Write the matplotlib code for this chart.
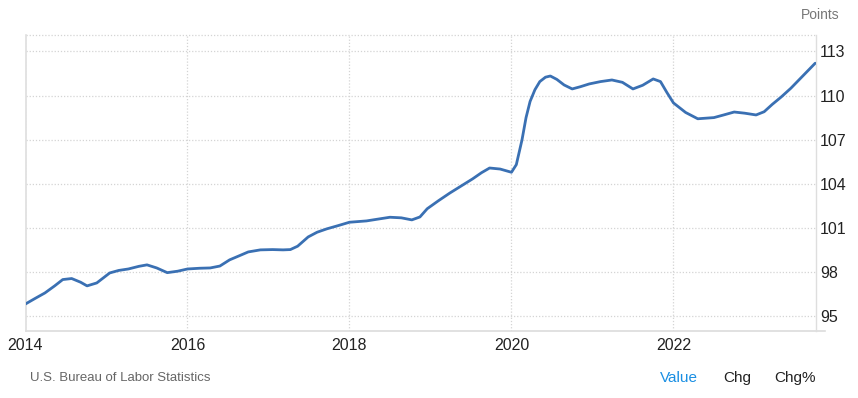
import matplotlib
matplotlib.use("Agg")
from matplotlib import pyplot as plt

plt.rcParams['font.family'] = ['Liberation Sans', 'DejaVu Sans']

# values (decimal year, index points)
years = [2014.0, 2014.12, 2014.24, 2014.36, 2014.46, 2014.57, 2014.68, 2014.76, 2014.88,
         2015.04, 2015.15, 2015.27, 2015.4, 2015.5, 2015.62, 2015.75, 2015.88,
         2016.0, 2016.15, 2016.28, 2016.4, 2016.52, 2016.64, 2016.75, 2016.9,
         2017.05, 2017.18, 2017.27, 2017.36, 2017.49, 2017.6, 2017.72, 2017.86,
         2018.0, 2018.21, 2018.36, 2018.5, 2018.64, 2018.77, 2018.87, 2018.96,
         2019.1, 2019.24, 2019.38, 2019.52, 2019.63, 2019.73, 2019.86, 2020.0,
         2020.06, 2020.13, 2020.18, 2020.23, 2020.29, 2020.35, 2020.42, 2020.48,
         2020.56, 2020.65, 2020.75, 2020.85, 2020.96, 2021.1, 2021.24, 2021.37,
         2021.5, 2021.62, 2021.75, 2021.84, 2021.92, 2022.0, 2022.15, 2022.3,
         2022.5, 2022.62, 2022.75, 2022.88, 2023.02, 2023.12, 2023.22, 2023.33,
         2023.45, 2023.6, 2023.75]
values = [95.82, 96.2, 96.57, 97.05, 97.48, 97.55, 97.3, 97.05, 97.25,
          97.93, 98.1, 98.2, 98.38, 98.48, 98.27, 97.95, 98.05,
          98.2, 98.25, 98.27, 98.4, 98.82, 99.1, 99.36, 99.5,
          99.52, 99.5, 99.52, 99.75, 100.38, 100.7, 100.93, 101.15,
          101.38, 101.47, 101.6, 101.72, 101.68, 101.54, 101.74, 102.3,
          102.85, 103.37, 103.85, 104.33, 104.75, 105.07, 105.0, 104.78,
          105.3, 106.98, 108.5, 109.6, 110.4, 110.95, 111.25, 111.33,
          111.1, 110.72, 110.45, 110.6, 110.79, 110.95, 111.06, 110.9,
          110.45, 110.7, 111.13, 110.95, 110.2, 109.5, 108.85, 108.42,
          108.5, 108.68, 108.88, 108.8, 108.68, 108.9, 109.4, 109.9,
          110.5, 111.35, 112.2]

xticks = [2014, 2016, 2018, 2020, 2022]
yticks = [95, 98, 101, 104, 107, 110, 113]

fig = plt.figure(figsize=(8.58, 3.98), dpi=100)
ax = fig.add_axes([25.5 / 858, 67 / 398, (816 - 25.5) / 858, (331 - 35) / 398])

ax.plot(years, values, color="#3a70b3", linewidth=2.0, solid_joinstyle="round",
        solid_capstyle="round", zorder=3)

ax.set_xlim(2014.0, 2023.76)
ax.set_ylim(93.98, 114.12)
ax.set_xticks(xticks)
ax.set_xticklabels([str(t) for t in xticks])
ax.set_yticks(yticks)
ax.set_yticklabels([str(t) for t in yticks])
ax.yaxis.tick_right()
ax.tick_params(axis="both", length=0, labelsize=11.5, colors="#222222")
ax.tick_params(axis="y", pad=3)
ax.tick_params(axis="x", pad=5)

ax.grid(True, color="#d4d4d4", linestyle=(0, (1, 1.5)), linewidth=0.9)
ax.set_axisbelow(True)

ax.spines["top"].set_visible(False)
ax.axhline(114.12, color="#d4d4d4", linestyle=(0, (1, 1.5)), linewidth=0.9, clip_on=False)
ax.spines["left"].set_color("#dedede")
ax.spines["left"].set_linewidth(1.2)
ax.spines["right"].set_color("#dedede")
ax.spines["right"].set_linewidth(1.0)
ax.spines["bottom"].set_visible(False)
# bottom axis line runs a little past the right spine
ax.plot([0, 1.012], [0, 0], transform=ax.transAxes, color="#dcdcdc", linewidth=1.2,
        clip_on=False, zorder=2)

fig.text(839 / 858, 1 - 15 / 398, "Points", ha="right", va="center", fontsize=10, color="#777777")
fig.text(30 / 858, 1 - 378 / 398, "U.S. Bureau of Labor Statistics", ha="left", va="center",
         fontsize=9.5, color="#666666")
fig.text(660 / 858, 1 - 378 / 398, "Value", ha="left", va="center", fontsize=11, color="#1a8fe3")
fig.text(723 / 858, 1 - 378 / 398, "Chg", ha="left", va="center", fontsize=11, color="#222222")
fig.text(774 / 858, 1 - 378 / 398, "Chg%", ha="left", va="center", fontsize=11, color="#222222")

fig.savefig("out.png", dpi=100)
